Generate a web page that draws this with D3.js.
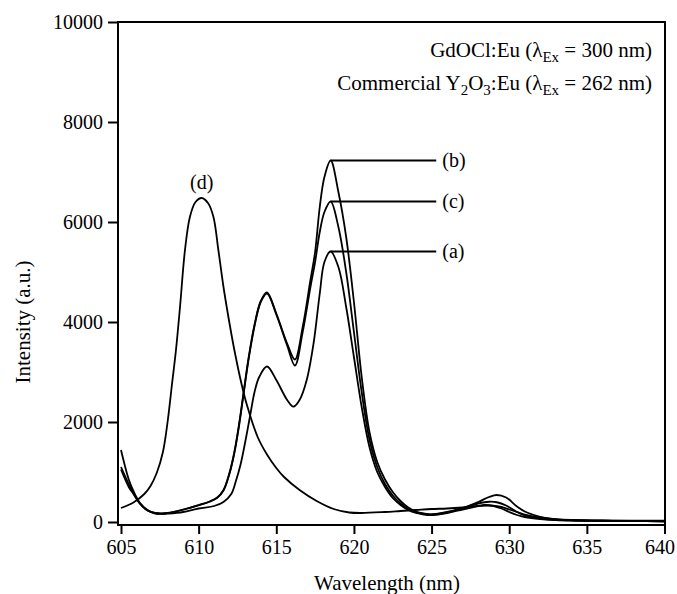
<!DOCTYPE html>
<html>
<head>
<meta charset="utf-8">
<script src="https://cdn.jsdelivr.net/npm/d3@7"></script>
<style>
  body { margin: 0; background: #fff; }
  svg { display: block; }
  text { font-family: "Liberation Serif", "DejaVu Serif", serif; fill: #000; }
</style>
</head>
<body>
<svg width="677" height="594"></svg>
<script>
// emission spectra
var wlA = [605, 605.5, 605.8, 606.2, 606.7, 607.2, 607.6, 608, 609, 610, 611, 611.6, 612.1, 612.4, 612.7, 613.0, 613.3, 613.6, 613.9, 614.4, 615.0, 615.7, 616.1, 616.5, 616.96, 617.4, 617.8, 618.1, 618.5, 619.0, 619.5, 620, 620.5, 621, 621.5, 622, 622.5, 623, 623.5, 624, 624.5, 625, 626, 627, 628, 628.4, 629, 629.5, 630, 630.5, 631, 632, 633, 634, 636, 638, 640];
var intA = [1050, 700, 560, 370, 230, 170, 162, 168, 200, 270, 320, 400, 560, 820, 1150, 1600, 2100, 2600, 2900, 3110, 2840, 2440, 2307, 2440, 2840, 3570, 4570, 5200, 5410, 5100, 4300, 3300, 2300, 1500, 1000, 700, 480, 340, 240, 180, 150, 140, 180, 250, 320, 340, 320, 270, 200, 140, 100, 60, 40, 30, 22, 18, 15];

var wlBC = [605, 605.5, 605.8, 606.2, 606.7, 607.2, 607.6, 608, 609, 610, 610.7, 611.2, 611.6, 612.0, 612.3, 612.6, 612.9, 613.2, 613.6, 614.0, 614.4, 615.0, 615.7, 616.2, 616.7, 617.2, 617.5, 617.8, 618.1, 618.5, 619.0, 619.5, 620.0, 620.5, 621.0, 621.5, 622, 622.5, 623, 623.5, 624, 624.5, 625, 626, 627, 628, 628.7, 629.2, 629.8, 630.5, 631, 631.6, 632.3, 633, 634, 636, 638, 640];
var intB = [1440, 850, 620, 390, 240, 180, 170, 180, 250, 340, 410, 490, 640, 1000, 1400, 1950, 2600, 3250, 3950, 4420, 4590, 4170, 3570, 3250, 3900, 4840, 5400, 6300, 6900, 7230, 6600, 5700, 4400, 2900, 1800, 1200, 850, 600, 420, 290, 210, 170, 150, 190, 280, 400, 500, 540, 490, 310, 210, 140, 80, 50, 35, 25, 20, 15];
var intC = [1100, 760, 580, 380, 235, 178, 168, 178, 245, 335, 405, 485, 630, 980, 1380, 1920, 2570, 3220, 3920, 4400, 4570, 4150, 3530, 3130, 3800, 4700, 5200, 5800, 6200, 6410, 5900, 5000, 3800, 2600, 1650, 1100, 760, 530, 370, 260, 190, 160, 150, 200, 280, 370, 405, 395, 330, 200, 130, 90, 60, 45, 35, 25, 20, 15];

var wlD = [605, 605.8, 606.5, 606.9, 607.3, 607.7, 608.0, 608.3, 608.54, 608.8, 609.12, 609.44, 609.8, 610.2, 610.6, 610.95, 611.27, 611.6, 612.0, 612.3, 612.77, 613.1, 613.8, 614.4, 615.0, 615.5, 616.5, 617.6, 618.7, 619.7, 620.5, 622, 623, 624, 625, 626, 627, 628, 628.7, 629.5, 630, 630.5, 631, 632, 633, 634, 636, 640];
var intD = [280, 390, 560, 720, 980, 1400, 2000, 2800, 3440, 4300, 5440, 6107, 6400, 6480, 6380, 6107, 5440, 4700, 3950, 3440, 2750, 2350, 1700, 1350, 1080, 900, 640, 420, 260, 190, 180, 200, 220, 240, 260, 270, 290, 320, 330, 300, 250, 200, 150, 90, 55, 40, 30, 25];

var xTicks = [605, 610, 615, 620, 625, 630, 635, 640];
var yTicks = [0, 2000, 4000, 6000, 8000, 10000];
var labelEnd = 625.3;   // where the (a)(b)(c) leader lines stop

var series = [
  {name: "(a)", wl: wlA, val: intA},
  {name: "(b)", wl: wlBC, val: intB},
  {name: "(c)", wl: wlBC, val: intC},
  {name: "(d)", wl: wlD, val: intD}
];

var svg = d3.select("svg"),
    plotL = 118, plotR = 665, plotT = 22, plotB = 525;

var x = d3.scaleLinear().domain([605, 640]).range([121, 664.5]);
var y = d3.scaleLinear().domain([0, 10000]).range([522, 22]);

var line = d3.line()
    .x(function(d){ return x(d[0]); })
    .y(function(d){ return y(d[1]); })
    .curve(d3.curveCatmullRom.alpha(0.5));

svg.append("g")
  .selectAll("path")
  .data(series)
  .enter()
  .append("path")
    .attr("fill", "none")
    .attr("stroke", "#000")
    .attr("stroke-width", 1.8)
    .attr("d", function(s){ return line(d3.zip(s.wl, s.val)); });

// leader lines + labels for a, b, c
var tagged = series.slice(0, 3).map(function(s){
  var i = d3.maxIndex(s.val);
  return {name: s.name, wl: s.wl[i], v: s.val[i]};
});

svg.append("g")
  .selectAll("line")
  .data(tagged)
  .enter()
  .append("line")
    .attr("x1", function(d){ return x(d.wl); })
    .attr("x2", x(labelEnd))
    .attr("y1", function(d){ return y(d.v); })
    .attr("y2", function(d){ return y(d.v); })
    .attr("stroke", "#000")
    .attr("stroke-width", 1.8);

svg.append("g")
  .selectAll("text")
  .data(tagged)
  .enter()
  .append("text")
    .attr("x", x(labelEnd) + 6)
    .attr("y", function(d){ return y(d.v); })
    .attr("dy", "0.33em")
    .attr("font-size", 20)
    .text(function(d){ return d.name; });

var dPeak = d3.maxIndex(intD);
svg.append("text")
    .attr("x", x(wlD[dPeak]))
    .attr("y", y(intD[dPeak]) - 9)
    .attr("text-anchor", "middle")
    .attr("font-size", 20)
    .text("(d)");

// axes
var xAxis = svg.append("g")
    .attr("transform", "translate(0," + plotB + ")")
    .call(d3.axisBottom(x).tickValues(xTicks).tickSize(9).tickPadding(6));
var yAxis = svg.append("g")
    .attr("transform", "translate(" + plotL + ",0)")
    .call(d3.axisLeft(y).tickValues(yTicks).tickFormat(d3.format("d")).tickSize(10).tickPadding(5));

[xAxis, yAxis].forEach(function(g){
  g.select(".domain").remove();
  g.selectAll(".tick line").attr("stroke-width", 2);
  g.selectAll(".tick text")
    .attr("font-family", "Liberation Serif, serif")
    .attr("font-size", 20);
});
// last x label sits right at the edge, pull it in a little
xAxis.selectAll(".tick text").filter(function(d){ return d === 640; }).attr("dx", -5);

// frame
svg.append("path")
    .attr("d", "M" + plotL + "," + plotT + "V" + plotB + "H" + plotR + "V" + plotT + "Z")
    .attr("fill", "none")
    .attr("stroke", "#000")
    .attr("stroke-width", 2);

// titles
svg.append("text")
    .attr("x", 387)
    .attr("y", 590)
    .attr("text-anchor", "middle")
    .attr("font-size", 21)
    .text("Wavelength (nm)");

svg.append("text")
    .attr("transform", "translate(30,322) rotate(-90)")
    .attr("text-anchor", "middle")
    .attr("font-size", 21)
    .text("Intensity (a.u.)");

// legend text
var leg1 = svg.append("text").attr("x", 652).attr("y", 57)
    .attr("text-anchor", "end").attr("font-size", 21);
leg1.append("tspan").text("GdOCl:Eu (\u03BB");
leg1.append("tspan").attr("dy", 5).attr("font-size", 15).text("Ex");
leg1.append("tspan").attr("dy", -5).text(" = 300 nm)");

var leg2 = svg.append("text").attr("x", 652).attr("y", 90)
    .attr("text-anchor", "end").attr("font-size", 21);
leg2.append("tspan").text("Commercial Y");
leg2.append("tspan").attr("dy", 5).attr("font-size", 15).text("2");
leg2.append("tspan").attr("dy", -5).text("O");
leg2.append("tspan").attr("dy", 5).attr("font-size", 15).text("3");
leg2.append("tspan").attr("dy", -5).text(":Eu (\u03BB");
leg2.append("tspan").attr("dy", 5).attr("font-size", 15).text("Ex");
leg2.append("tspan").attr("dy", -5).text(" = 262 nm)");
</script>
</body>
</html>
